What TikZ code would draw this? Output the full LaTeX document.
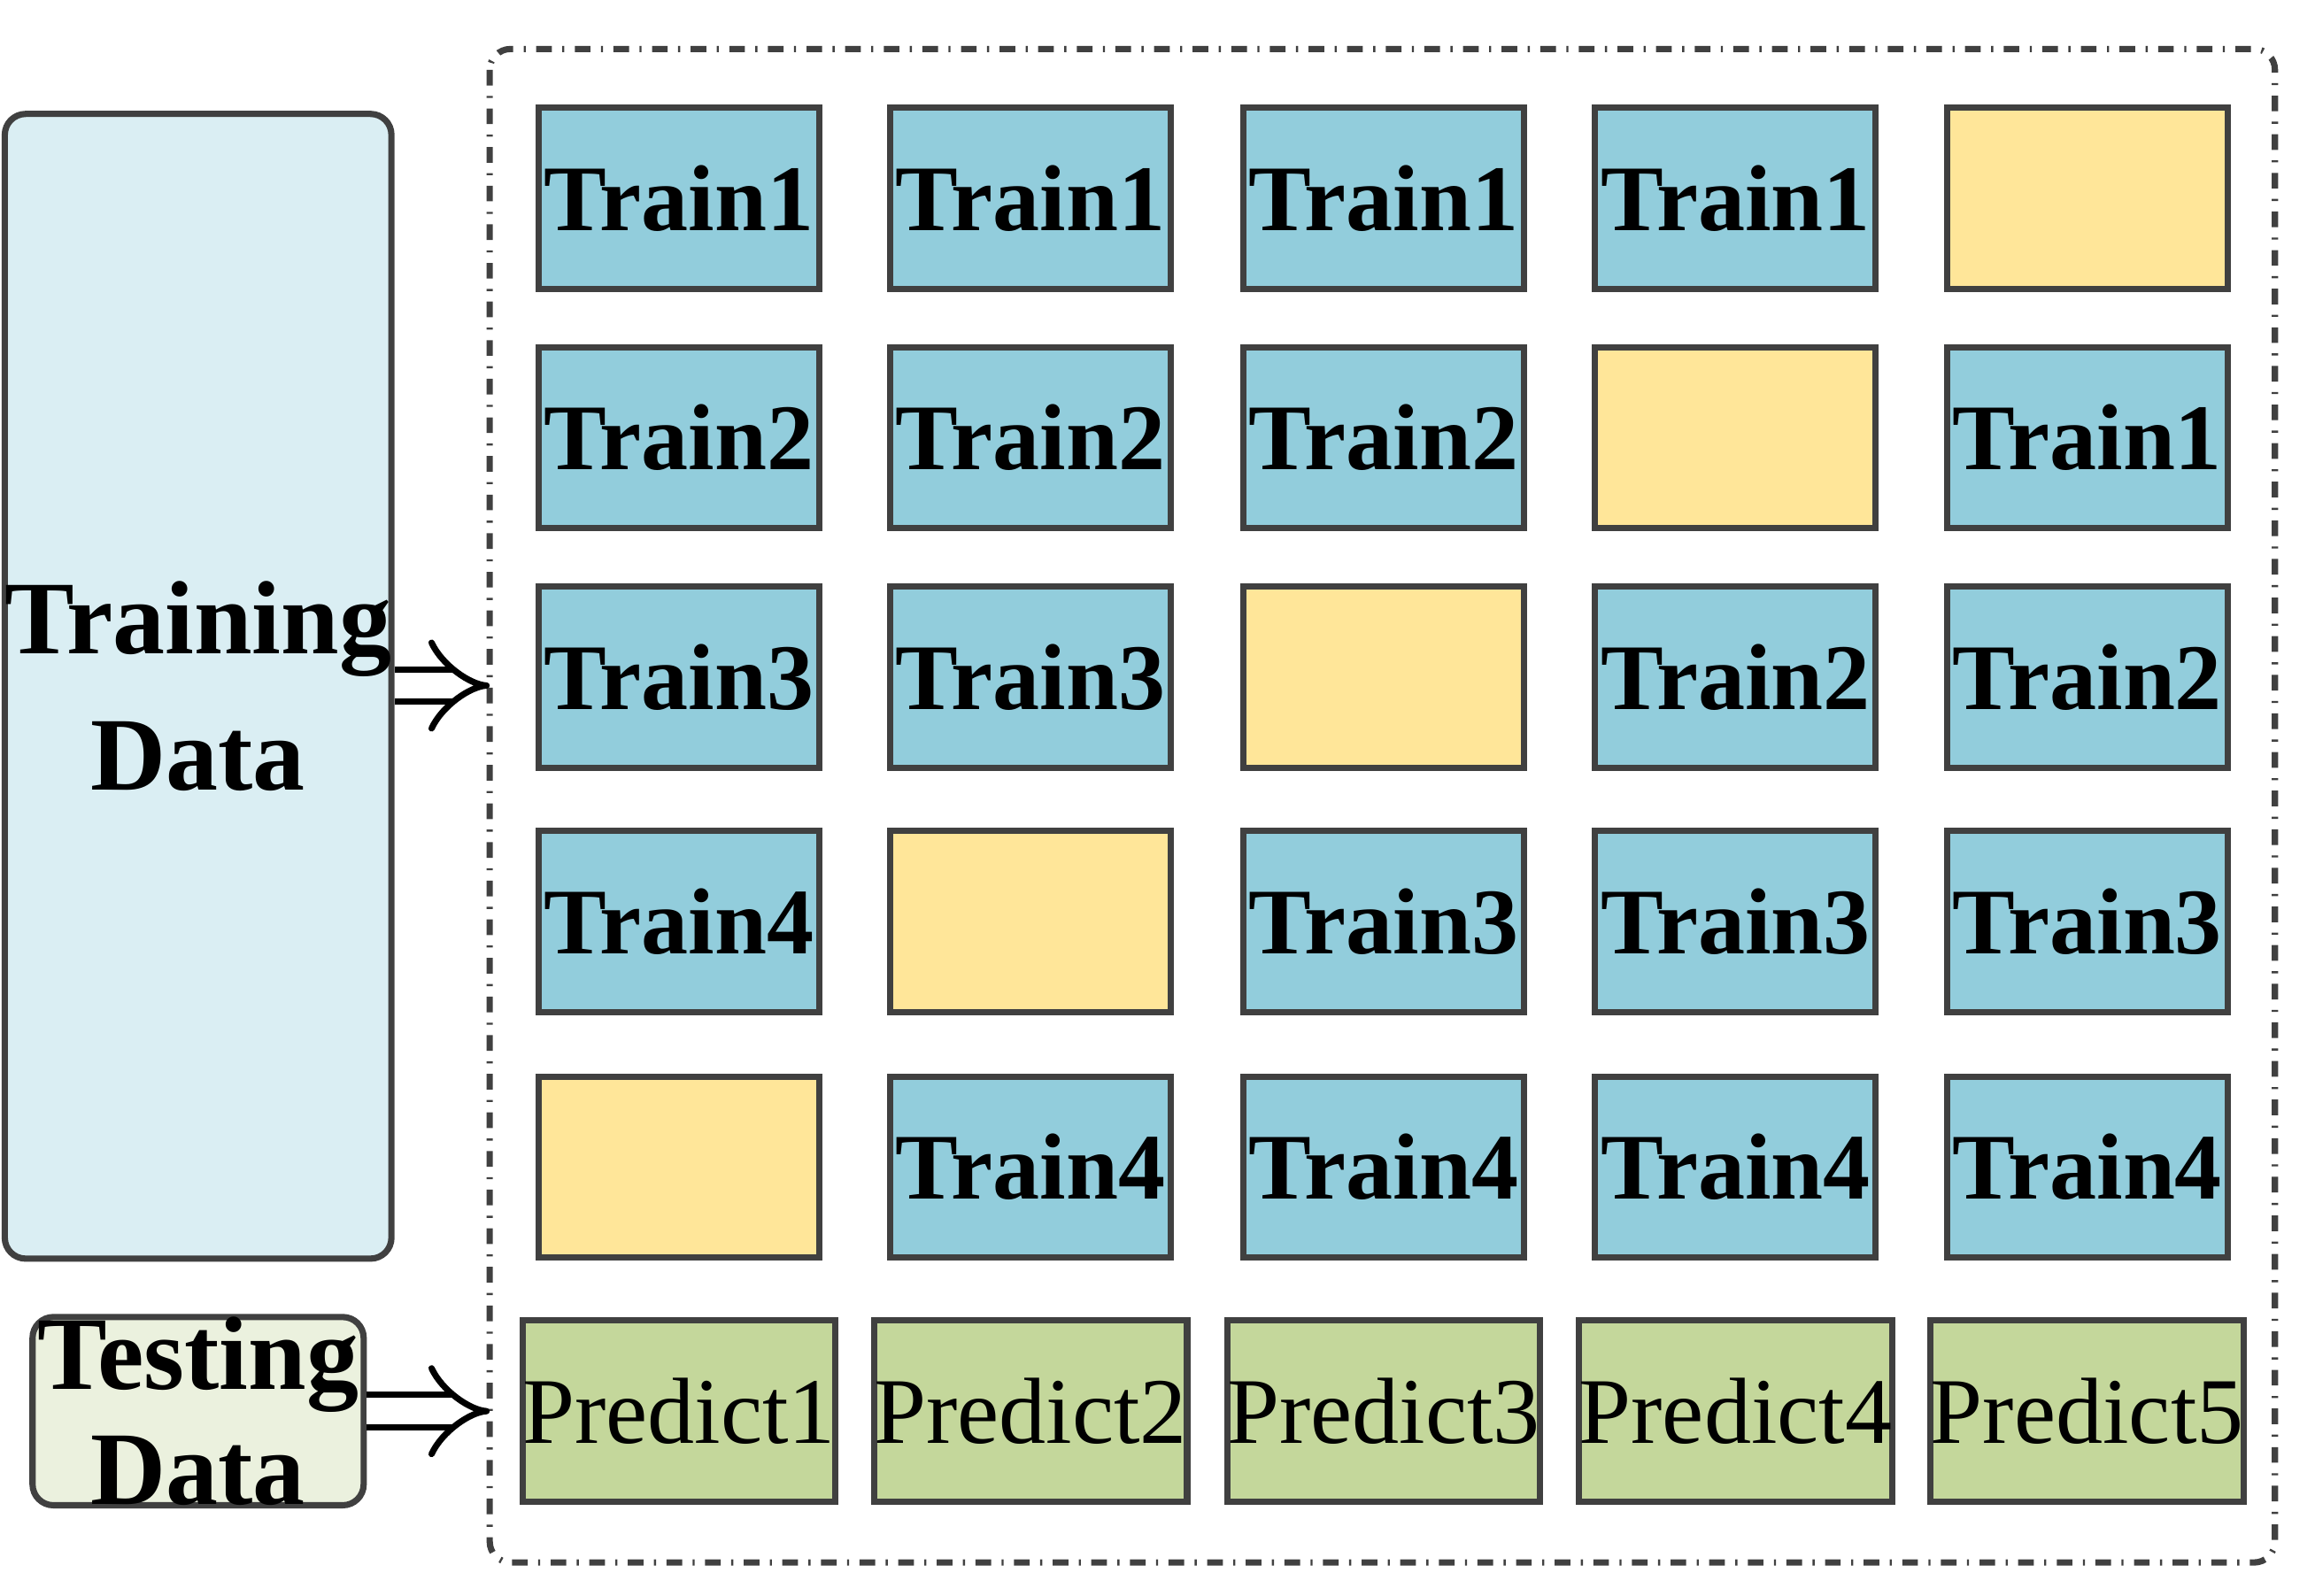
\documentclass[tikz,border=0pt]{standalone}
\usepackage{fontspec}
\setmainfont{Liberation Serif}
\usetikzlibrary{arrows.meta}
\definecolor{cb}{HTML}{92CDDC}
\definecolor{cy}{HTML}{FFE699}
\definecolor{cg}{HTML}{C4D79B}
\definecolor{ct}{HTML}{DAEEF3}
\definecolor{cs}{HTML}{EBF1DE}
\begin{document}
\begin{tikzpicture}[x=0.01cm,y=-0.01cm,
 cell/.style={draw=black!75,line width=1.2pt,minimum width=1.89cm,minimum height=1.22cm,inner sep=0pt,font=\fontsize{18}{20}\selectfont\bfseries},
 tr/.style={cell,fill=cb}, ye/.style={cell,fill=cy},
 pr/.style={cell,fill=cg,font=\fontsize{18}{20}\selectfont},
 big/.style={draw=black!75,line width=1.2pt,rounded corners=4pt,inner sep=0pt,align=center,font=\fontsize{20}{26}\selectfont\bfseries},
 harrow/.style={double,double distance=5pt,line width=1.2pt,-{Implies[length=8pt]}}]
\useasboundingbox (0,0) rectangle (1560,1075);
\draw[dash dot,line width=1.2pt,rounded corners=4pt,black!75] (330,33) rectangle (1533,1053);
\node[big,fill=ct,minimum width=2.23cm,minimum height=7.71cm] (train) at (133.5,462.5) {Training\\Data};
\node[big,fill=cs,minimum width=2.23cm,minimum height=1.22cm,font=\fontsize{20}{22}\selectfont\bfseries] (test) at (133.5,951) {Testing\\Data};
\coordinate (a1) at (330,462);
\coordinate (a2) at (330,951);
\draw[harrow] (train.east|-a1) -- (a1);
\draw[harrow] (test.east|-a2) -- (a2);
% columns x centers: 457.5, 694.5, 932.5, 1169.5, 1406.5
% rows y centers: 133.5, 295, 456.5, 621, 786.5, 951
\node[tr] (r1c1) at (457.5,133.5) {Train1};
\node[tr] (r1c2) at (694.5,133.5) {Train1};
\node[tr] (r1c3) at (932.5,133.5) {Train1};
\node[tr] (r1c4) at (1169.5,133.5) {Train1};
\node[ye] (r1c5) at (1406.5,133.5) {};
\node[tr] (r2c1) at (457.5,295) {Train2};
\node[tr] (r2c2) at (694.5,295) {Train2};
\node[tr] (r2c3) at (932.5,295) {Train2};
\node[ye] (r2c4) at (1169.5,295) {};
\node[tr] (r2c5) at (1406.5,295) {Train1};
\node[tr] (r3c1) at (457.5,456.5) {Train3};
\node[tr] (r3c2) at (694.5,456.5) {Train3};
\node[ye] (r3c3) at (932.5,456.5) {};
\node[tr] (r3c4) at (1169.5,456.5) {Train2};
\node[tr] (r3c5) at (1406.5,456.5) {Train2};
\node[tr] (r4c1) at (457.5,621) {Train4};
\node[ye] (r4c2) at (694.5,621) {};
\node[tr] (r4c3) at (932.5,621) {Train3};
\node[tr] (r4c4) at (1169.5,621) {Train3};
\node[tr] (r4c5) at (1406.5,621) {Train3};
\node[ye] (r5c1) at (457.5,786.5) {};
\node[tr] (r5c2) at (694.5,786.5) {Train4};
\node[tr] (r5c3) at (932.5,786.5) {Train4};
\node[tr] (r5c4) at (1169.5,786.5) {Train4};
\node[tr] (r5c5) at (1406.5,786.5) {Train4};
\node[pr] (p1) at (457.5,951) {Predict1};
\node[pr] (p2) at (694.5,951) {Predict2};
\node[pr] (p3) at (932.5,951) {Predict3};
\node[pr] (p4) at (1169.5,951) {Predict4};
\node[pr] (p5) at (1406.5,951) {Predict5};
\end{tikzpicture}
\end{document}
